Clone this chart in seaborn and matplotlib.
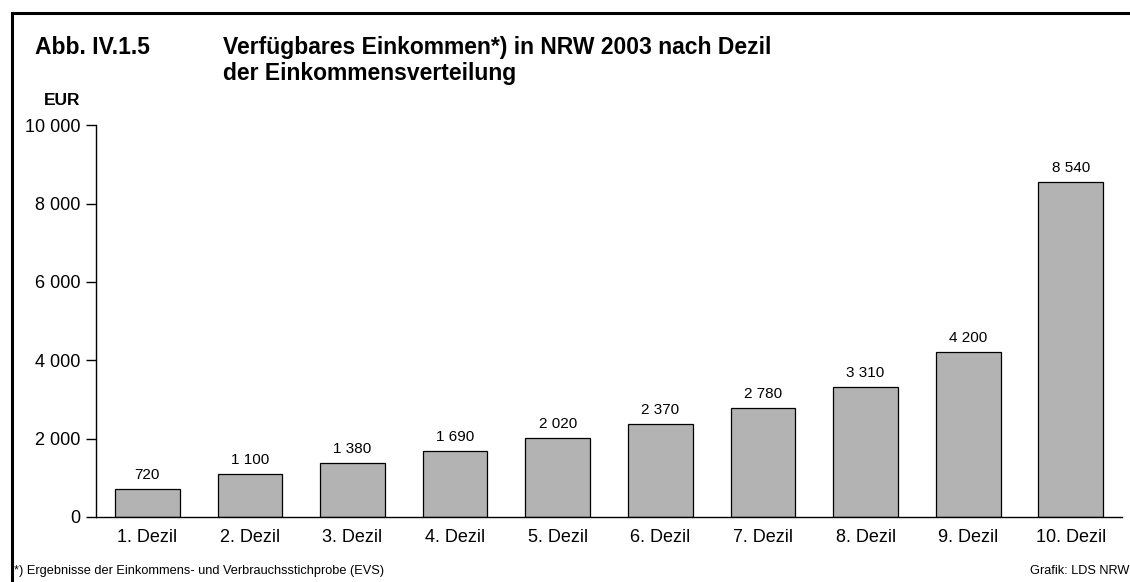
import matplotlib
matplotlib.use("Agg")
import matplotlib.pyplot as plt
import matplotlib.ticker as mticker
from matplotlib.patches import Rectangle
import pandas as pd
import seaborn as sns

# data
deciles = ["1. Dezil", "2. Dezil", "3. Dezil", "4. Dezil", "5. Dezil",
           "6. Dezil", "7. Dezil", "8. Dezil", "9. Dezil", "10. Dezil"]
income = [720, 1100, 1380, 1690, 2020, 2370, 2780, 3310, 4200, 8540]
y_ticks = [0, 2000, 4000, 6000, 8000, 10000]


def de_num(v, pos=None):
    return f"{int(v):,}".replace(",", " ")


sns.set_theme(style="white")
plt.rcParams["font.family"] = ["Liberation Sans", "DejaVu Sans"]
plt.rcParams["text.color"] = "black"

df = pd.DataFrame({"dezil": deciles, "eur": income})

fig = plt.figure(figsize=(11.3, 5.82), dpi=100)
ax = fig.add_axes([0.085, 0.1117, 0.908, 0.6733])

sns.barplot(data=df, x="dezil", y="eur", color="#b3b3b3", saturation=1,
            width=0.63, edgecolor="black", linewidth=0.9, ax=ax)

ax.set_xlim(-0.5, 9.5)
ax.set_ylim(0, 10000)
ax.set_yticks(y_ticks)
ax.yaxis.set_major_formatter(mticker.FuncFormatter(de_num))
ax.set_xlabel("")
ax.set_ylabel("")

for s in ["top", "right"]:
    ax.spines[s].set_visible(False)
for s in ["left", "bottom"]:
    ax.spines[s].set_color("black")
    ax.spines[s].set_linewidth(1.0)

ax.tick_params(axis="y", which="major", left=True, length=7, width=1,
               color="black", labelsize=13, pad=4, labelcolor="black")
ax.tick_params(axis="x", bottom=False, labelsize=13, pad=3, labelcolor="black")

for i, v in enumerate(income):
    ax.annotate(de_num(v), (i, v), xytext=(0, 5), textcoords="offset points",
                ha="center", va="bottom", fontsize=11, color="black")

# header texts
fig.text(35 / 1130, 1 - 54 / 582, "Abb. IV.1.5", fontsize=16.5, fontweight="bold",
         va="baseline", ha="left", color="black")
fig.text(223 / 1130, 1 - 54 / 582, "Verfügbares Einkommen*) in NRW 2003 nach Dezil",
         fontsize=16.5, fontweight="bold", va="baseline", ha="left", color="black")
fig.text(223 / 1130, 1 - 80 / 582, "der Einkommensverteilung",
         fontsize=16.5, fontweight="bold", va="baseline", ha="left", color="black")
fig.text(62 / 1130, 1 - 105 / 582, "EUR", fontsize=12.5, fontweight="bold",
         va="baseline", ha="center", color="black")

# footer texts
fig.text(14 / 1130, 1 - 571 / 582,
         "*) Ergebnisse der Einkommens- und Verbrauchsstichprobe (EVS)",
         fontsize=9.2, va="center", ha="left", color="black")
fig.text(1129 / 1130, 1 - 571 / 582, "Grafik: LDS NRW",
         fontsize=9.2, va="center", ha="right", color="black")

# frame around the chart (cut off at right and bottom like the original)
fig.patches.append(Rectangle((12 / 1130, -0.1), 1.2, 1 - 13 / 582 + 0.1,
                             transform=fig.transFigure, fill=False,
                             edgecolor="black", linewidth=2.2, zorder=10))

fig.savefig("out.png", dpi=100)
